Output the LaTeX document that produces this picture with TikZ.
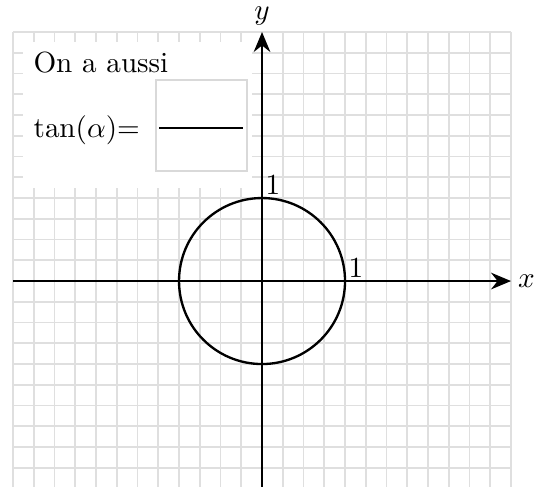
\documentclass[tikz,border=0pt]{standalone}
\usepackage{amsmath,amssymb}
\usepackage{tikz}
\usetikzlibrary{arrows.meta,positioning,calc}
\tikzset{
  grille/.style={gray!25, line width=0.55pt},
  axe/.style={-{Stealth[length=2.4mm, width=2mm]}, thick},
  cercle/.style={thick},
  lbl/.style={font=\normalsize, inner sep=2pt},
  reponse/.style={draw=gray!30, line width=0.6pt, fill=white,
                  minimum width=1.1cm, minimum height=1.1cm, inner sep=0pt}
}

\begin{document}
\begin{tikzpicture}
\useasboundingbox (-3.157,-2.47) rectangle (3.313,3.386);
% grid 0.25 cm
\draw[grille] (-3,-2.75) grid[step=0.25] (3,3);
% axes
\coordinate (xmin) at (-3,0);
\coordinate (xmax) at (3,0);
\coordinate (ymin) at (0,-2.75);
\coordinate (ymax) at (0,3);
\draw[axe] (xmin) -- (xmax) node[right, lbl] (xlab) {$x$};
\draw[axe] (ymin) -- (ymax) node[above, lbl] (ylab) {$y$};
% unit circle
\coordinate (O) at (0,0);
\draw[cercle] (O) circle (1);
\node[lbl, above right, inner sep=1pt] (un1) at (1,0) {1};
\node[lbl, above right, inner sep=1pt] (un2) at (0,1) {1};
% white box with text
\fill[white] (-2.875,1.125) rectangle (-0.125,2.875);
\node[lbl, anchor=base west, inner sep=0pt] (aussi) at (-2.76,2.51) {On a aussi};
\node[lbl, anchor=base west, inner sep=0pt] (tan) at (-2.76,1.73) {$\tan(\alpha){=}$};
\node[reponse] (rep) at (-0.729,1.873) {};
\draw[line width=0.6pt] ([xshift=0.05cm, yshift=-0.3mm]rep.west) -- ([xshift=-0.06cm, yshift=-0.3mm]rep.east);
\end{tikzpicture}
\end{document}
